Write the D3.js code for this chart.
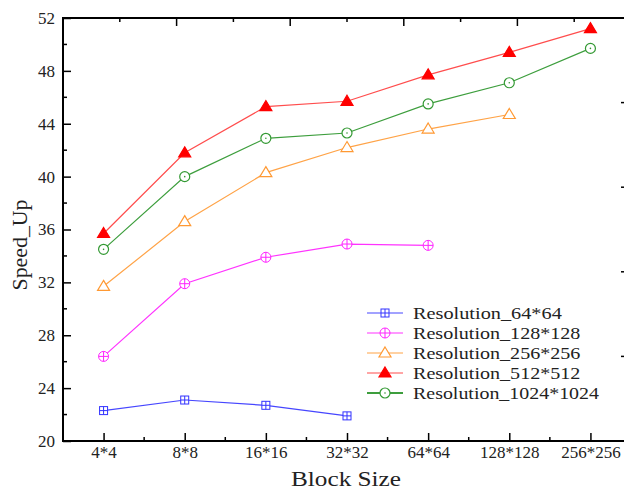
<!DOCTYPE html>
<html><head><meta charset="utf-8">
<script src="https://cdn.jsdelivr.net/npm/d3@7"></script>
<style>body{margin:0;background:#fff}svg{display:block}</style>
</head><body>
<svg id="c" width="624" height="490"></svg>
<script>
const categories = ["4*4","8*8","16*16","32*32","64*64","128*128","256*256"];
const yTicks = [20,24,28,32,36,40,44,48,52];
const seriesNames = ["Resolution_64*64","Resolution_128*128","Resolution_256*256","Resolution_512*512","Resolution_1024*1024"];
const res64   = [22.3, 23.1, 22.7, 21.9];
const res128  = [26.4, 31.9, 33.9, 34.9, 34.8];
const res256  = [31.7, 36.6, 40.3, 42.2, 43.6, 44.7];
const res512  = [35.7, 41.8, 45.3, 45.7, 47.7, 49.4, 51.2];
const res1024 = [34.5, 40.0, 42.9, 43.3, 45.5, 47.1, 49.7];
const seriesValues = [res64, res128, res256, res512, res1024];
const lineColors = ["#4646ff","#ff33ff","#ffa347","#ff4d4d","#3d9e3d"];
const markColors = ["#3333ff","#ff22ff","#ff9933","#ff0000","#339933"];
const markTypes = ["sqplus","circplus","tri","trifill","circdot"];

const svg = d3.select("#c");
const L = 63, R = 631, T = 18, B = 441;
const x = d3.scaleLinear().domain([-0.5, categories.length - 0.5]).range([L, R]);
const y = d3.scaleLinear().domain([20, 52]).range([B, T]);
const font = "'Liberation Serif', 'DejaVu Serif', serif";

// frame
svg.append("rect").attr("x", L).attr("y", T).attr("width", R - L).attr("height", B - T)
  .attr("fill", "none").attr("stroke", "#000").attr("stroke-width", 2);

// bottom axis
const gx = svg.append("g").attr("transform", `translate(0,${B})`);
gx.call(d3.axisBottom(x).tickValues(d3.range(categories.length)).tickFormat(i => categories[i]).tickSize(-8).tickPadding(5));
gx.select(".domain").remove();
gx.selectAll(".tick line").attr("stroke-width", 1.5);
gx.selectAll("text").attr("font-family", font).attr("font-size", 17).attr("fill", "#222");
const minorX = d3.range(categories.length - 1).map(i => i + 0.5).concat([categories.length - 0.5]);
svg.append("g").selectAll("line").data(minorX).join("line")
  .attr("x1", d => x(d)).attr("x2", d => x(d)).attr("y1", B).attr("y2", B - 4)
  .attr("stroke", "#000").attr("stroke-width", 1.5);

// left axis
const gy = svg.append("g").attr("transform", `translate(${L},0)`);
gy.call(d3.axisLeft(y).tickValues(yTicks).tickSize(-8).tickPadding(8));
gy.select(".domain").remove();
gy.selectAll(".tick line").attr("stroke-width", 1.5);
gy.selectAll("text").attr("font-family", font).attr("font-size", 17).attr("fill", "#222");
const minorY = d3.range(22, 52, 4);
svg.append("g").selectAll("line").data(minorY).join("line")
  .attr("x1", L).attr("x2", L + 4).attr("y1", d => y(d)).attr("y2", d => y(d))
  .attr("stroke", "#000").attr("stroke-width", 1.5);

// top axis ticks
const xt = d3.scaleLinear().domain([0, 10]).range([L, R]);
svg.append("g").selectAll("line").data(d3.range(1, 10)).join("line")
  .attr("x1", d => xt(d)).attr("x2", d => xt(d)).attr("y1", T).attr("y2", d => T + (d % 2 ? 4 : 8))
  .attr("stroke", "#000").attr("stroke-width", 1.5);
// right axis ticks
const yr = d3.scaleLinear().domain([0, 5]).range([T, B]);
svg.append("g").selectAll("line").data(d3.range(1, 5)).join("line")
  .attr("x1", R).attr("x2", R - 10).attr("y1", d => yr(d)).attr("y2", d => yr(d))
  .attr("stroke", "#000").attr("stroke-width", 1.5);

// axis titles
svg.append("text").attr("x", (L + R) / 2 - 1).attr("y", 486).attr("text-anchor", "middle")
  .attr("font-family", font).attr("font-size", 22).attr("fill", "#222")
  .attr("textLength", 110).attr("lengthAdjust", "spacingAndGlyphs").text("Block Size");
svg.append("text").attr("transform", "translate(27,245) rotate(-90)").attr("text-anchor", "middle")
  .attr("font-family", font).attr("font-size", 22).attr("fill", "#222")
  .attr("textLength", 91).attr("lengthAdjust", "spacingAndGlyphs").text("Speed_Up");

function drawMarker(g, type, color, cx, cy) {
  if (type === "sqplus") {
    const s = 4;
    g.append("rect").attr("x", cx - s).attr("y", cy - s).attr("width", 2 * s).attr("height", 2 * s)
      .attr("fill", "#fff").attr("stroke", color).attr("stroke-width", 1);
    g.append("path").attr("d", `M${cx - s},${cy}H${cx + s}M${cx},${cy - s}V${cy + s}`).attr("stroke", color).attr("stroke-width", 1);
  } else if (type === "circplus") {
    const r = 5;
    g.append("circle").attr("cx", cx).attr("cy", cy).attr("r", r).attr("fill", "#fff").attr("stroke", color).attr("stroke-width", 1);
    g.append("path").attr("d", `M${cx - r},${cy}H${cx + r}M${cx},${cy - r}V${cy + r}`).attr("stroke", color).attr("stroke-width", 1);
  } else if (type === "tri" || type === "trifill") {
    const w = 6, h = 10;
    g.append("path").attr("d", `M${cx},${cy - h * 0.6}L${cx + w},${cy + h * 0.4}L${cx - w},${cy + h * 0.4}Z`)
      .attr("fill", type === "trifill" ? color : "#fff").attr("stroke", color).attr("stroke-width", 1.2);
  } else if (type === "circdot") {
    g.append("circle").attr("cx", cx).attr("cy", cy).attr("r", 5).attr("fill", "#fff").attr("stroke", color).attr("stroke-width", 1.2);
    g.append("circle").attr("cx", cx).attr("cy", cy).attr("r", 0.8).attr("fill", color);
  }
}

const line = d3.line().x((d, i) => x(i)).y(d => y(d));
seriesValues.forEach((vals, k) => {
  const g = svg.append("g");
  g.append("path").datum(vals).attr("d", line).attr("fill", "none")
    .attr("stroke", lineColors[k]).attr("stroke-width", 1.2);
  vals.forEach((v, i) => drawMarker(g, markTypes[k], markColors[k], x(i), y(v)));
});

// legend
const lg = svg.append("g");
seriesNames.forEach((name, k) => {
  const cy = 313 + k * 20;
  lg.append("line").attr("x1", 367).attr("x2", 403).attr("y1", cy).attr("y2", cy)
    .attr("stroke", lineColors[k]).attr("stroke-width", k === 4 ? 2 : 1.2);
  drawMarker(lg, markTypes[k], markColors[k], 385, cy);
  lg.append("text").attr("x", 413).attr("y", cy + 6).attr("font-family", font).attr("font-size", 17)
    .attr("fill", "#222").attr("textLength", name.length * 9.3).attr("lengthAdjust", "spacingAndGlyphs").text(name);
});
</script>
</body></html>
